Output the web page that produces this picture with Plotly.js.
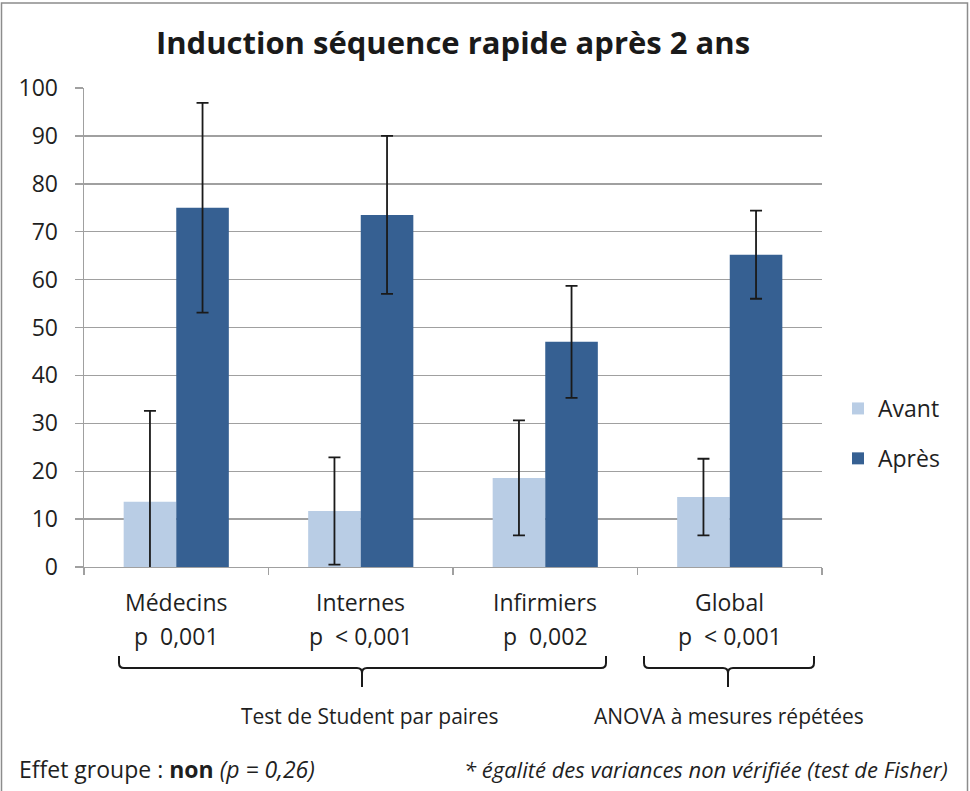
<!DOCTYPE html>
<html>
<head>
<meta charset="utf-8">
<script src="https://cdn.plot.ly/plotly-3.0.1.min.js"></script>
<style>
html,body{margin:0;padding:0;background:#fff;}
#chart{width:970px;height:791px;}
</style>
</head>
<body>
<div id="chart"></div>
<script>
// ---- data ----
const categories = ["Médecins", "Internes", "Infirmiers", "Global"];
const pLabels = ["p  0,001", "p  < 0,001", "p  0,002", "p  < 0,001"];
const seriesNames = ["Avant", "Après"];
const avantValues = [13.6, 11.7, 18.6, 14.6];
const avantErrors = [19.0, 11.2, 12.0, 8.0];
const apresValues = [75.0, 73.5, 47.0, 65.2];
const apresErrors = [21.9, 16.5, 11.7, 9.2];
const yTickVals = [0, 10, 20, 30, 40, 50, 60, 70, 80, 90, 100];
const titleText = "Induction séquence rapide après 2 ans";
const noteStudent = "Test de Student par paires";
const noteAnova = "ANOVA à mesures répétées";
const noteGroup = "Effet groupe : <b>non</b> <i>(p = 0,26)</i>";
const noteFisher = "<i>* égalité des variances non vérifiée (test de Fisher)</i>";

// ---- layout geometry (pixels) ----
const W = 970, H = 791;
const M = {l: 84, r: 148, t: 88, b: 224};
const PW = W - M.l - M.r, PH = H - M.t - M.b;
const px = x => (x - M.l) / PW;
const py = y => (H - M.b - y) / PH;

const FONT = "Open Sans, Liberation Sans, sans-serif";
const TXT = "#1f1f1f";
const GRID = "#a0a0a0";

const errStyle = {type: "data", visible: true, color: "#1a1a1a", thickness: 1.8, width: 6};

const traces = [
  {type: "bar", name: seriesNames[0], x: categories, y: avantValues,
   marker: {color: "#b9cde5"}, legendgroup: "a",
   error_y: Object.assign({array: avantErrors}, errStyle), hoverinfo: "skip"},
  {type: "bar", name: seriesNames[1], x: categories, y: apresValues,
   marker: {color: "#366092"}, legendgroup: "b",
   error_y: Object.assign({array: apresErrors}, errStyle), hoverinfo: "skip"}
];

const annotations = [];
categories.forEach((c, i) => {
  annotations.push({xref: "x", yref: "paper", x: c, y: py(602), text: c, showarrow: false,
    yanchor: "middle", font: {family: FONT, size: 23, color: TXT}});
  annotations.push({xref: "x", yref: "paper", x: c, y: py(636), text: pLabels[i], showarrow: false,
    yanchor: "middle", font: {family: FONT, size: 23, color: TXT}});
});
annotations.push({xref: "paper", yref: "paper", x: px(370), y: py(716), text: noteStudent,
  showarrow: false, xanchor: "center", yanchor: "middle", font: {family: FONT, size: 21, color: TXT}});
annotations.push({xref: "paper", yref: "paper", x: px(729), y: py(716), text: noteAnova,
  showarrow: false, xanchor: "center", yanchor: "middle", font: {family: FONT, size: 21, color: TXT}});
annotations.push({xref: "paper", yref: "paper", x: px(17), y: py(769), text: noteGroup,
  showarrow: false, xanchor: "left", yanchor: "middle", font: {family: FONT, size: 23, color: TXT}});
annotations.push({xref: "paper", yref: "paper", x: px(950), y: py(769), text: noteFisher,
  showarrow: false, xanchor: "right", yanchor: "middle", font: {family: FONT, size: 22, color: TXT}});

function brace(x0, x1, xc, yTop, yLine, yTip) {
  const X = v => px(v), Y = v => py(v);
  const r = 5;
  return "M" + X(x0) + "," + Y(yTop) +
    " L" + X(x0) + "," + Y(yLine - r) +
    " Q" + X(x0) + "," + Y(yLine) + " " + X(x0 + r) + "," + Y(yLine) +
    " L" + X(xc - r) + "," + Y(yLine) +
    " Q" + X(xc) + "," + Y(yLine) + " " + X(xc) + "," + Y(yLine + r) +
    " L" + X(xc) + "," + Y(yTip) +
    " M" + X(xc) + "," + Y(yLine + r) +
    " Q" + X(xc) + "," + Y(yLine) + " " + X(xc + r) + "," + Y(yLine) +
    " L" + X(x1 - r) + "," + Y(yLine) +
    " Q" + X(x1) + "," + Y(yLine) + " " + X(x1) + "," + Y(yLine - r) +
    " L" + X(x1) + "," + Y(yTop);
}

const shapes = [
  {type: "path", xref: "paper", yref: "paper", path: brace(119, 606, 362, 656, 668, 687),
   line: {color: "#1a1a1a", width: 2}},
  {type: "path", xref: "paper", yref: "paper", path: brace(644, 814, 728, 656, 668, 687),
   line: {color: "#1a1a1a", width: 2}},
  {type: "rect", xref: "paper", yref: "paper", x0: px(1.5), x1: px(967.5), y0: py(800), y1: py(3),
   line: {color: "#8c8c8c", width: 1.5}, fillcolor: "rgba(0,0,0,0)", layer: "below"}
];

const layout = {
  width: W, height: H,
  margin: M,
  paper_bgcolor: "#ffffff", plot_bgcolor: "#ffffff",
  font: {family: FONT, color: TXT},
  title: {text: "<b>" + titleText + "</b>", font: {family: FONT, size: 31, color: "#1a1a1a"},
          x: 0.5, xref: "paper", y: (H - 43) / H, yref: "container", yanchor: "middle"},
  barmode: "group", bargap: 0.43, bargroupgap: 0,
  showlegend: true,
  legend: {x: px(838), xanchor: "left", y: py(387), yanchor: "top",
           font: {family: FONT, size: 23, color: TXT}, tracegroupgap: 17,
           traceorder: "grouped", bgcolor: "rgba(0,0,0,0)"},
  xaxis: {type: "category", showticklabels: false, ticks: "outside", tickson: "boundaries",
          ticklen: 7, tickcolor: GRID, tickwidth: 1.4, showgrid: false,
          showline: true, linecolor: GRID, linewidth: 1.4, fixedrange: true},
  yaxis: {range: [0, 100], tickvals: yTickVals, ticks: "outside", ticklen: 8,
          tickcolor: GRID, tickwidth: 1.4, showgrid: true, gridcolor: GRID, gridwidth: 1.4,
          showline: true, linecolor: GRID, linewidth: 1.4, zeroline: false,
          ticklabelstandoff: 12,
          tickfont: {family: FONT, size: 23, color: TXT}, fixedrange: true},
  annotations: annotations,
  shapes: shapes
};

Plotly.newPlot("chart", traces, layout, {displayModeBar: false, staticPlot: true});
</script>
</body>
</html>
